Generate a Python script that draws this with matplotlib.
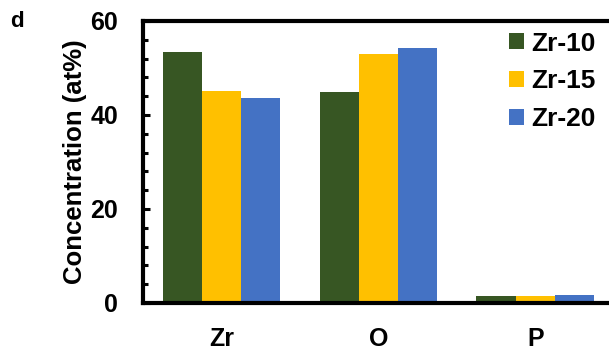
import numpy as np
import matplotlib
matplotlib.use("Agg")
import matplotlib.pyplot as plt
from matplotlib.ticker import MultipleLocator

plt.rcParams["font.family"] = ["Liberation Sans", "DejaVu Sans"]
plt.rcParams["font.weight"] = "bold"

elements = ["Zr", "O", "P"]
series_names = ["Zr-10", "Zr-15", "Zr-20"]
zr10 = [53.4, 44.8, 1.5]
zr15 = [45.0, 53.0, 1.4]
zr20 = [43.6, 54.2, 1.7]
colors = ["#375623", "#FFC000", "#4472C4"]

fig = plt.figure(figsize=(6.09, 3.5), dpi=100)
ax = fig.add_axes([0.2348, 0.1343, 0.7652, 0.8057])

x = np.arange(len(elements))
width = 0.25
for i, (vals, name) in enumerate(zip([zr10, zr15, zr20], series_names)):
    ax.bar(x + (i - 1) * width, vals, width, color=colors[i], label=name)

ax.set_xlim(-0.5, 2.47)
ax.set_ylim(0, 60)
ax.yaxis.set_major_locator(MultipleLocator(20))
ax.yaxis.set_minor_locator(MultipleLocator(4))
ax.set_xticks(x)
ax.set_xticklabels(elements, fontsize=18, fontweight="bold")
ax.tick_params(axis="x", length=0, pad=17)
ax.tick_params(axis="y", which="major", direction="in", length=5, width=2.2,
               labelsize=18, pad=18)
ax.tick_params(axis="y", which="minor", direction="in", length=3.5, width=2.2)

for side in ["left", "bottom", "top"]:
    ax.spines[side].set_linewidth(3)
ax.spines["right"].set_visible(False)

ax.set_ylabel("Concentration (at%)", fontsize=18.5, fontweight="bold", labelpad=2)

leg = ax.legend(loc="upper right", bbox_to_anchor=(0.995, 1.0), frameon=False,
                prop={"size": 19, "weight": "bold"}, handlelength=0.55,
                handleheight=0.55, handletextpad=0.3, labelspacing=0.52,
                borderaxespad=0.0)

fig.text(0.016, 0.968, "d", fontsize=16, fontweight="bold", va="top")

fig.savefig("out.png", dpi=100)
